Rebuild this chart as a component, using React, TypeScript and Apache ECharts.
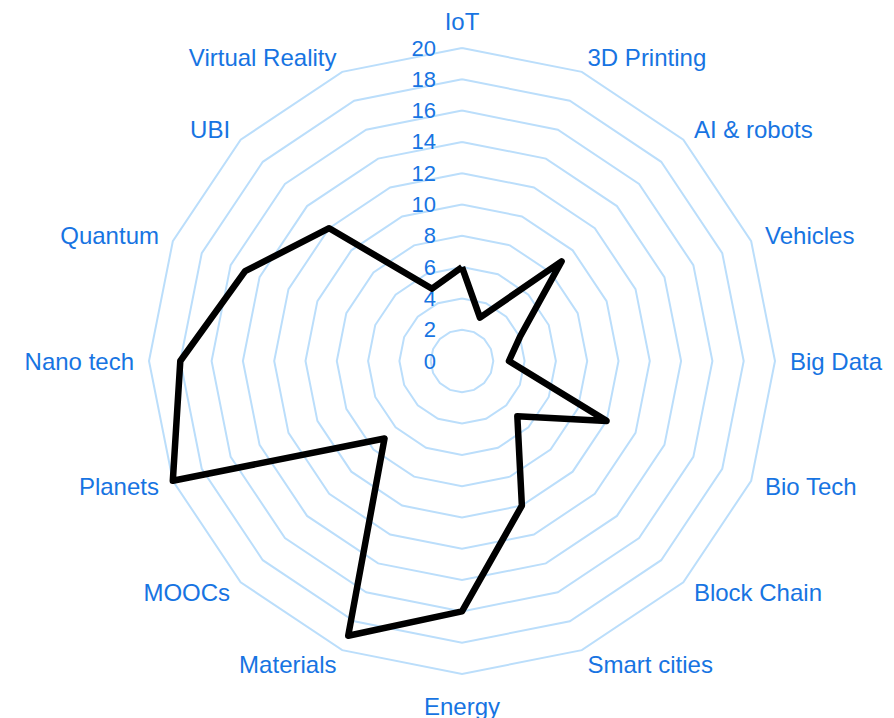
import React, { useEffect, useRef } from "react";
import * as echarts from "echarts";

// Categories in clockwise order starting at the top
const categories = [
  "IoT",
  "3D Printing",
  "AI & robots",
  "Vehicles",
  "Big Data",
  "Bio Tech",
  "Block Chain",
  "Smart cities",
  "Energy",
  "Materials",
  "MOOCs",
  "Planets",
  "Nano tech",
  "Quantum",
  "UBI",
  "Virtual Reality",
];

const values = [6, 3, 9, 4, 3, 10, 5, 10, 16, 19, 7, 20, 18, 15, 12, 5];

const axisMin = 0;
const axisMax = 20;
const splitCount = 10;

const BLUE = "#1774e2";
const GRID = "#bbdefb";
const FONT = "'Liberation Sans', Arial, Helvetica, sans-serif";

export default function App() {
  const ref = useRef<HTMLDivElement>(null);

  useEffect(() => {
    if (!ref.current) return;
    const chart = echarts.init(ref.current, undefined, { renderer: "svg" });

    // ECharts places indicators counter-clockwise; reorder so they read clockwise
    const order = [0, ...categories.slice(1).map((_, i) => categories.length - 1 - i)];
    const indicator = order.map((idx, k) => {
      const ind: any = { name: categories[idx], min: axisMin, max: axisMax };
      if (k === 0) {
        ind.axisLabel = {
          show: true,
          color: BLUE,
          fontSize: 22,
          fontFamily: FONT,
          margin: 26,
        };
      }
      return ind;
    });
    const data = order.map((idx) => values[idx]);

    chart.setOption({
      animation: false,
      radar: {
        center: [462, 361],
        radius: 313,
        startAngle: 90,
        shape: "polygon",
        splitNumber: splitCount,
        indicator,
        axisName: {
          color: BLUE,
          fontSize: 24,
          fontFamily: FONT,
          padding: [5, 0, 0, 0],
        },
        nameGap: 15,
        axisLine: { show: false },
        axisTick: { show: false },
        axisLabel: { show: false },
        splitArea: { show: false },
        splitLine: { lineStyle: { color: GRID, width: 2 } },
      },
      series: [
        {
          type: "radar",
          symbol: "none",
          lineStyle: { color: "#000", width: 6.5 },
          data: [{ value: data }],
        },
      ],
    });

    return () => chart.dispose();
  }, []);

  return (
    <div
      ref={ref}
      style={{ position: "absolute", left: 0, top: 0, width: 894, height: 718 }}
    />
  );
}
